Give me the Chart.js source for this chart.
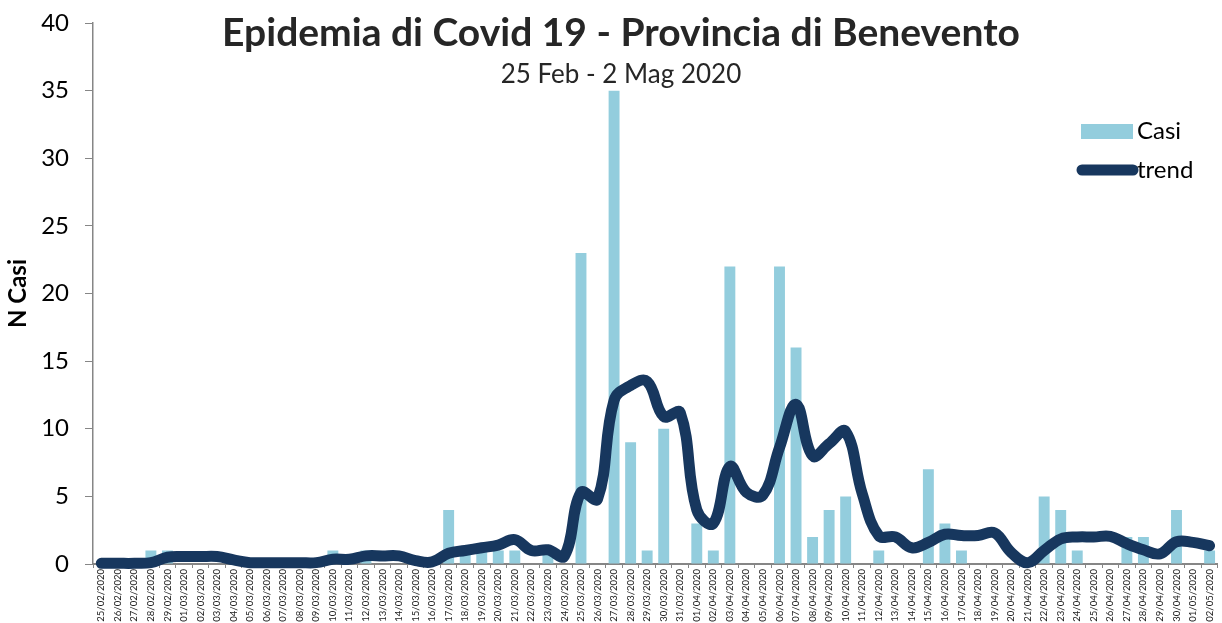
<!DOCTYPE html>
<html>
<head>
<meta charset="utf-8">
<script src="https://cdn.jsdelivr.net/npm/chart.js@4.4.0/dist/chart.umd.min.js"></script>
<style>
  html, body { margin: 0; padding: 0; background: #fff; }
  #box { width: 1222px; height: 623px; position: relative; }
</style>
</head>
<body>
<div id="box"><canvas id="grafico"></canvas></div>
<script>
// dati
const giorni = [
  "25/02/2020","26/02/2020","27/02/2020","28/02/2020","29/02/2020",
  "01/03/2020","02/03/2020","03/03/2020","04/03/2020","05/03/2020","06/03/2020","07/03/2020","08/03/2020",
  "09/03/2020","10/03/2020","11/03/2020","12/03/2020","13/03/2020","14/03/2020","15/03/2020","16/03/2020",
  "17/03/2020","18/03/2020","19/03/2020","20/03/2020","21/03/2020","22/03/2020","23/03/2020","24/03/2020",
  "25/03/2020","26/03/2020","27/03/2020","28/03/2020","29/03/2020","30/03/2020","31/03/2020",
  "01/04/2020","02/04/2020","03/04/2020","04/04/2020","05/04/2020","06/04/2020","07/04/2020","08/04/2020",
  "09/04/2020","10/04/2020","11/04/2020","12/04/2020","13/04/2020","14/04/2020","15/04/2020","16/04/2020",
  "17/04/2020","18/04/2020","19/04/2020","20/04/2020","21/04/2020","22/04/2020","23/04/2020","24/04/2020",
  "25/04/2020","26/04/2020","27/04/2020","28/04/2020","29/04/2020","30/04/2020","01/05/2020","02/05/2020"
];

const casi = [
  0, 0, 0, 1, 1,
  0, 0, 0, 0, 0, 0, 0, 0,
  0, 1, 0, 1, 0, 0, 0, 0,
  4, 1, 1, 1, 1, 0, 1, 0,
  23, 0, 35, 9, 1, 10, 0,
  3, 1, 22, 0, 0, 22, 16, 2,
  4, 5, 0, 1, 0, 0, 7, 3,
  1, 0, 0, 0, 0, 5, 4, 1,
  0, 0, 2, 2, 0, 4, 0, 1
];

const trend = [
  0.05, 0.05, 0.05, 0.1, 0.5,
  0.55, 0.55, 0.55, 0.3, 0.1, 0.1, 0.1, 0.1,
  0.1, 0.35, 0.35, 0.6, 0.6, 0.6, 0.25, 0.15,
  0.8, 1.0, 1.2, 1.4, 1.8, 1.0, 1.05, 0.6,
  5.3, 4.8, 12.1, 13.2, 13.5, 10.9, 11.2,
  4.0, 3.0, 7.2, 5.3, 5.1, 8.6, 11.8, 8.0,
  8.9, 9.8, 5.2, 2.1, 2.0, 1.2, 1.6, 2.2,
  2.1, 2.1, 2.3, 0.86, 0.1, 1.0, 1.85, 2.0,
  2.0, 2.05, 1.5, 1.05, 0.75, 1.65, 1.6, 1.35
];

const yTicks = [0, 5, 10, 15, 20, 25, 30, 35, 40];

const COLORE_BARRE = '#93CDDD';
const COLORE_TREND = '#17375E';
const COLORE_ASSE = '#868686';
const COLORE_TESTO = '#262626';
const FONT = 'Lato, "Open Sans", sans-serif';

// titolo e legenda disegnati sopra l'area del grafico, come in Excel
const pluginTitoloLegenda = {
  id: 'titoloLegenda',
  afterDraw(chart) {
    const ctx = chart.ctx;
    ctx.save();
    ctx.fillStyle = COLORE_TESTO;
    ctx.textAlign = 'center';
    ctx.textBaseline = 'middle';
    ctx.font = 'bold 39px ' + FONT;
    ctx.fillText('Epidemia di Covid 19 - Provincia di Benevento', 621, 33);
    ctx.font = '26px ' + FONT;
    ctx.fillText('25 Feb - 2 Mag 2020', 621, 75);

    // legenda
    const barre = chart.data.datasets[0];
    const linea = chart.data.datasets[1];
    ctx.textAlign = 'left';
    ctx.font = '24px ' + FONT;
    ctx.fillStyle = barre.backgroundColor;
    ctx.fillRect(1081, 124, 52, 15);
    ctx.fillStyle = '#000';
    ctx.fillText(barre.label, 1137, 131);

    ctx.strokeStyle = linea.borderColor;
    ctx.lineWidth = 11;
    ctx.lineCap = 'round';
    ctx.beginPath();
    ctx.moveTo(1082, 170);
    ctx.lineTo(1133, 170);
    ctx.stroke();
    ctx.fillText(linea.label, 1137, 170);
    ctx.restore();
  }
};

const ctx = document.getElementById('grafico').getContext('2d');
const grafico = new Chart(ctx, {
  type: 'bar',
  data: {
    labels: giorni,
    datasets: [
      {
        type: 'bar',
        label: 'Casi',
        data: casi,
        backgroundColor: COLORE_BARRE,
        categoryPercentage: 1.0,
        barPercentage: 0.66,
        order: 1
      },
      {
        type: 'line',
        label: 'trend',
        data: trend,
        borderColor: COLORE_TREND,
        borderWidth: 11,
        borderCapStyle: 'round',
        borderJoinStyle: 'round',
        pointRadius: 0,
        tension: 0.4,
        fill: false,
        clip: false,
        order: 0
      }
    ]
  },
  options: {
    responsive: true,
    maintainAspectRatio: false,
    animation: false,
    layout: { padding: { top: 23, right: 2, left: 0, bottom: 0 } },
    plugins: {
      legend: { display: false },
      title: { display: false },
      tooltip: { enabled: false }
    },
    scales: {
      x: {
        offset: true,
        grid: {
          offset: true,
          drawOnChartArea: false,
          drawTicks: true,
          tickLength: 4,
          color: COLORE_ASSE
        },
        border: { color: COLORE_ASSE, width: 2 },
        ticks: {
          autoSkip: false,
          minRotation: 90,
          maxRotation: 90,
          padding: 1,
          color: '#222',
          font: { family: FONT, size: 9.5 }
        },
        afterFit(scale) { scale.height = 59; }
      },
      y: {
        min: 0,
        max: 40,
        afterBuildTicks(scale) { scale.ticks = yTicks.map(v => ({ value: v })); },
        grid: {
          drawOnChartArea: false,
          drawTicks: true,
          tickLength: 8,
          color: COLORE_ASSE
        },
        border: { color: COLORE_ASSE, width: 1.5 },
        ticks: {
          padding: 16,
          color: '#000',
          font: { family: FONT, size: 24 }
        },
        title: {
          display: true,
          text: 'N Casi',
          color: '#000',
          padding: { top: 4, bottom: 0 },
          font: { family: FONT, size: 24, weight: 'bold' }
        },
        afterFit(scale) {
          scale.width = 93;
          scale.paddingTop = 0;
          scale.paddingBottom = 0;
        }
      }
    }
  },
  plugins: [pluginTitoloLegenda]
});
</script>
</body>
</html>
